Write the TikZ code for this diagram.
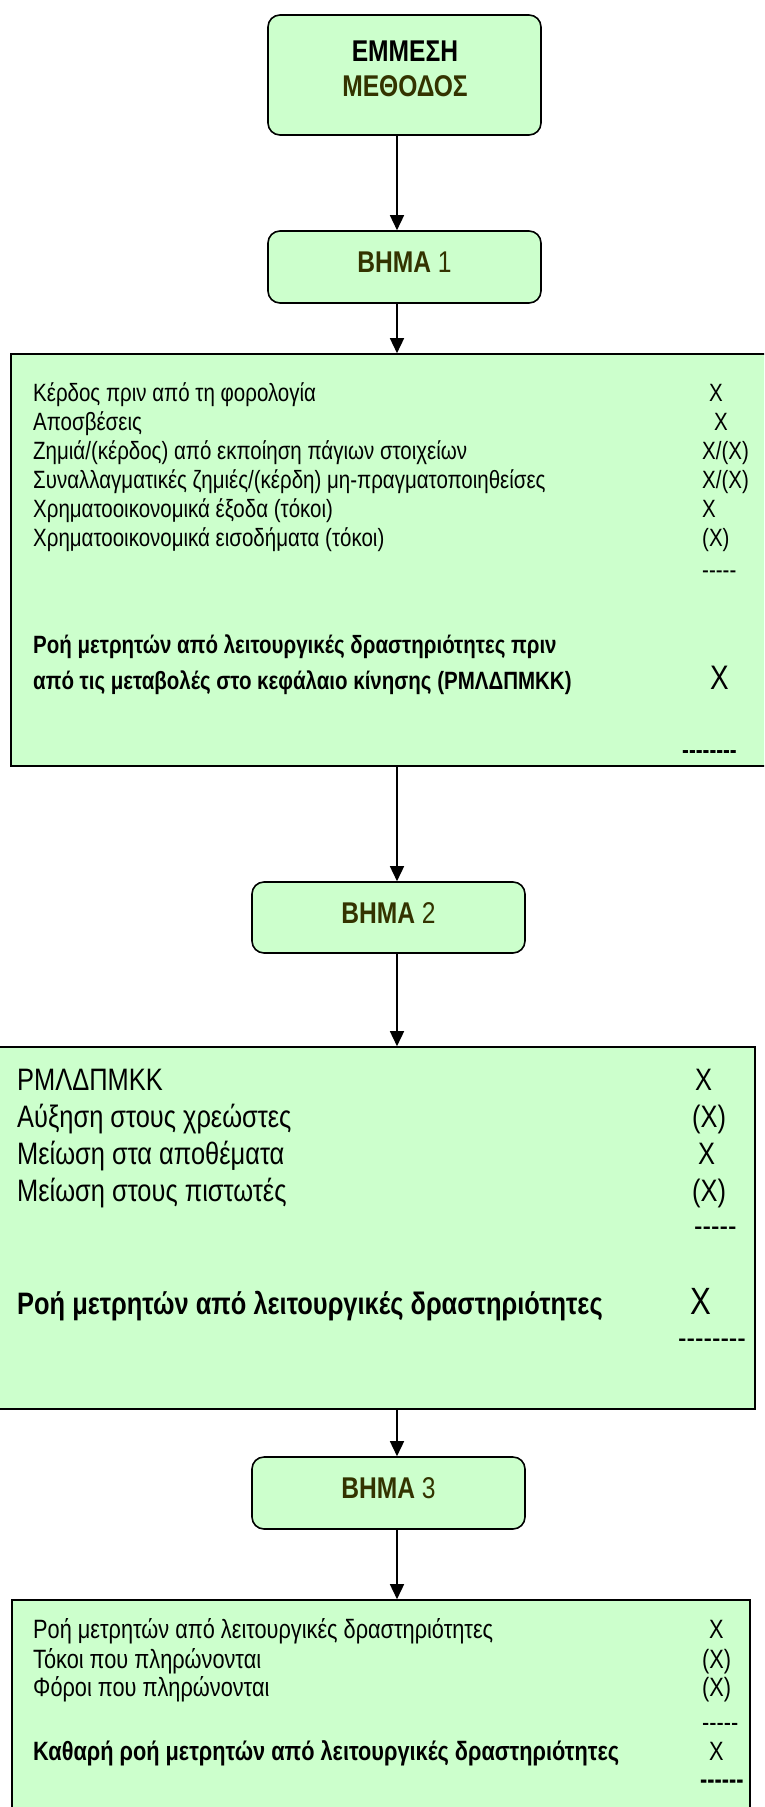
\documentclass[tikz,border=0pt]{standalone}
\usepackage{fontspec}
\setmainfont[FakeStretch=0.82]{Liberation Sans}
\usetikzlibrary{arrows.meta}
\definecolor{boxgreen}{HTML}{CCFFCC}
\definecolor{stepolive}{HTML}{333300}
\newcommand{\dsh}{\mbox{-}}
\begin{document}
\begin{tikzpicture}[x=1pt,y=-1pt,
  roundbox/.style={draw=black, line width=1.6pt, fill=boxgreen, rounded corners=12pt, inner sep=0pt},
  bigbox/.style={draw=black, line width=1.6pt, fill=boxgreen, inner sep=0pt},
  head/.style={font=\fontsize{30}{36}\selectfont, inner sep=0pt, anchor=base},
  ta/.style={font=\fontsize{25}{29}\selectfont, inner sep=0pt, anchor=base west},
  tab/.style={font=\fontsize{25}{29}\selectfont\bfseries, inner sep=0pt, anchor=base west},
  tb/.style={font=\fontsize{31}{37}\selectfont, inner sep=0pt, anchor=base west},
  tbb/.style={font=\fontsize{31}{37}\selectfont\bfseries, inner sep=0pt, anchor=base west},
  tc/.style={font=\fontsize{26.5}{30}\selectfont, inner sep=0pt, anchor=base west},
  tcb/.style={font=\fontsize{26.5}{30}\selectfont\bfseries, inner sep=0pt, anchor=base west},
  conn/.style={line width=1.5pt, -{Triangle[width=14pt,length=15pt]}}
]
\useasboundingbox (0,0) rectangle (764,1807);
\clip (0,0) rectangle (764,1807);
\coordinate (ax) at (397,0);

% heading boxes
\node[roundbox, minimum width=273pt, minimum height=120pt] (box0) at (404.5,75) {};
\node[head] (t0a) at (405,61) {\bfseries ΕΜΜΕΣΗ};
\node[head, text=stepolive] (t0b) at (405,96) {\bfseries ΜΕΘΟΔΟΣ};

\node[roundbox, minimum width=273pt, minimum height=72pt] (bh1) at (404.5,267) {};
\node[head, text=stepolive] (tb1) at (404.5,272) {\textbf{ΒΗΜΑ} 1};

% box 1
\node[bigbox, minimum width=760pt, minimum height=412pt] (box1) at (391,560) {};
\node[ta] (a1) at (33,401) {Κέρδος πριν από τη φορολογία};
\node[ta] (a1x) at (709,401) {X};
\node[ta] (a2) at (33,430) {Αποσβέσεις};
\node[ta] (a2x) at (714,430) {X};
\node[ta] (a3) at (33,459) {Ζημιά/(κέρδος) από εκποίηση πάγιων στοιχείων};
\node[ta] (a3x) at (702,459) {X/(X)};
\node[ta] (a4) at (33,488) {Συναλλαγματικές ζημιές/(κέρδη) μη-πραγματοποιηθείσες};
\node[ta] (a4x) at (702,488) {X/(X)};
\node[ta] (a5) at (33,517) {Χρηματοοικονομικά έξοδα (τόκοι)};
\node[ta] (a5x) at (702,517) {X};
\node[ta] (a6) at (33,546) {Χρηματοοικονομικά εισοδήματα (τόκοι)};
\node[ta] (a6x) at (702,546) {(X)};
\node[ta] (a7) at (702,578) {\dsh\dsh\dsh\dsh\dsh};
\node[tab] (a8) at (33,653) {Ροή μετρητών από λειτουργικές δραστηριότητες πριν};
\node[tab] (a9) at (33,689) {από τις μεταβολές στο κεφάλαιο κίνησης (ΡΜΛΔΠΜΚΚ)};
\node[ta, font=\fontsize{34}{40}\selectfont] (a9x) at (710,689) {X};
\node[tab] (a10) at (682,758) {\dsh\dsh\dsh\dsh\dsh\dsh\dsh\dsh};

% step 2
\node[roundbox, minimum width=273pt, minimum height=71pt] (bh2) at (388.5,917.5) {};
\node[head, text=stepolive] (tb2) at (388.5,923) {\textbf{ΒΗΜΑ} 2};

\node[bigbox, minimum width=760pt, minimum height=362pt] (box2) at (375,1228) {};
\node[tb] (b1) at (17,1090) {ΡΜΛΔΠΜΚΚ};
\node[tb] (b1x) at (695,1090) {X};
\node[tb] (b2) at (17,1127) {Αύξηση στους χρεώστες};
\node[tb] (b2x) at (692,1127) {(X)};
\node[tb] (b3) at (17,1164) {Μείωση στα αποθέματα};
\node[tb] (b3x) at (698,1164) {X};
\node[tb] (b4) at (17,1201) {Μείωση στους πιστωτές};
\node[tb] (b4x) at (692,1201) {(X)};
\node[tb] (b5) at (694,1236) {\dsh\dsh\dsh\dsh\dsh};
\node[tbb] (b6) at (17,1314) {Ροή μετρητών από λειτουργικές δραστηριότητες};
\node[tb, font=\fontsize{38}{44}\selectfont] (b6x) at (690,1314) {X};
\node[tb] (b7) at (678,1348) {\dsh\dsh\dsh\dsh\dsh\dsh\dsh\dsh};

% step 3
\node[roundbox, minimum width=273pt, minimum height=72pt] (bh3) at (388.5,1493) {};
\node[head, text=stepolive] (tb3) at (388.5,1498) {\textbf{ΒΗΜΑ} 3};

\node[bigbox, minimum width=738pt, minimum height=230pt] (box3) at (381,1715) {};
\node[tc] (c1) at (33,1638) {Ροή μετρητών από λειτουργικές δραστηριότητες};
\node[tc] (c1x) at (709,1638) {X};
\node[tc] (c2) at (33,1668) {Τόκοι που πληρώνονται};
\node[tc] (c2x) at (702,1668) {(X)};
\node[tc] (c3) at (33,1696) {Φόροι που πληρώνονται};
\node[tc] (c3x) at (702,1696) {(X)};
\node[tc] (c4) at (702,1731) {\dsh\dsh\dsh\dsh\dsh};
\node[tcb] (c5) at (33,1760) {Καθαρή ροή μετρητών από λειτουργικές δραστηριότητες};
\node[tc] (c5x) at (709,1760) {X};
\node[tcb] (c6) at (700,1788) {\dsh\dsh\dsh\dsh\dsh\dsh};

% connectors
\draw[conn] (box0.south -| ax) -- (bh1.north -| ax);
\draw[conn] (bh1.south -| ax) -- (box1.north -| ax);
\draw[conn] (box1.south -| ax) -- (bh2.north -| ax);
\draw[conn] (bh2.south -| ax) -- (box2.north -| ax);
\draw[conn] (box2.south -| ax) -- (bh3.north -| ax);
\draw[conn] (bh3.south -| ax) -- (box3.north -| ax);
\end{tikzpicture}
\end{document}
